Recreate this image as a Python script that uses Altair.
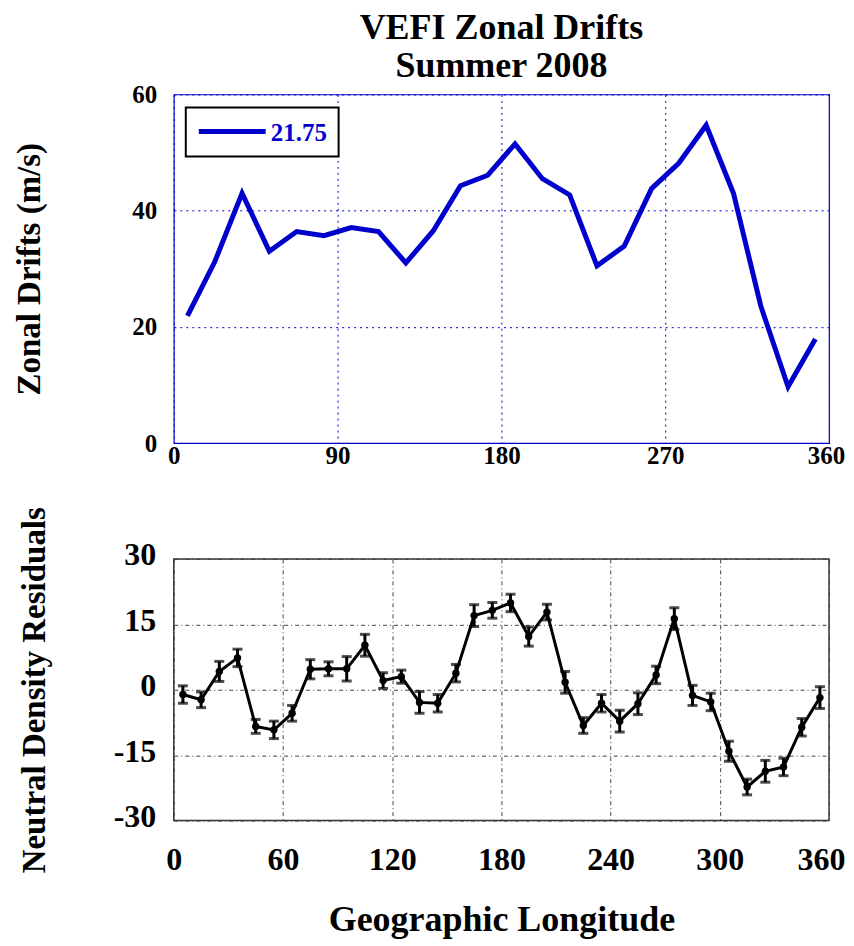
import altair as alt
import pandas as pd

# ---------------- data ----------------
title_lines = ["VEFI Zonal Drifts", "Summer 2008"]
legend_label = ["21.75"]

lon_drift = [7.5, 22.5, 37.5, 52.5, 67.5, 82.5, 97.5, 112.5, 127.5, 142.5, 157.5, 172.5,
             187.5, 202.5, 217.5, 232.5, 247.5, 262.5, 277.5, 292.5, 307.5, 322.5, 337.5, 352.5]
drift = [21.9, 31.2, 43.0, 33.0, 36.4, 35.7, 37.1, 36.4, 31.0, 36.5, 44.3, 46.1,
         51.5, 45.5, 42.7, 30.5, 33.9, 43.8, 48.2, 54.7, 43.0, 23.6, 9.7, 17.9]

lon_res = [5, 15, 25, 35, 45, 55, 65, 75, 85, 95, 105, 115, 125, 135, 145, 155, 165, 175,
           185, 195, 205, 215, 225, 235, 245, 255, 265, 275, 285, 295, 305, 315, 325, 335, 345, 355]
res = [-1.1, -2.3, 4.2, 7.3, -8.4, -9.2, -5.4, 4.7, 4.8, 4.8, 10.2, 2.1, 3.0, -2.9, -3.1, 3.8,
       17.0, 18.2, 19.9, 12.2, 17.8, 1.7, -8.2, -3.1, -7.2, -3.2, 3.4, 16.3, -1.3, -2.8,
       -14.1, -22.3, -18.7, -17.7, -8.6, -1.8]
res_err = [2.0, 1.8, 2.3, 2.0, 1.6, 2.0, 1.8, 2.2, 1.6, 2.8, 2.5, 1.8, 1.5, 2.5, 2.0, 2.0,
           2.5, 1.8, 2.0, 2.2, 1.8, 2.5, 1.8, 2.0, 2.5, 2.5, 2.0, 2.5, 2.3, 2.0,
           2.3, 1.8, 2.5, 2.0, 2.0, 2.5]

top_x_ticks = [0, 90, 180, 270, 360]
top_y_ticks = [0, 20, 40, 60]
bot_x_ticks = [0, 60, 120, 180, 240, 300, 360]
bot_y_ticks = [-30, -15, 0, 15, 30]

# ---------------- styling ----------------
BLUE = "#0000CC"
FONT = "Liberation Serif"
GRID = "#444444"
W = 656

top_df = pd.DataFrame({"lon": lon_drift, "drift": drift})
bot_df = pd.DataFrame({
    "lon": lon_res,
    "res": res,
    "lo": [r - e for r, e in zip(res, res_err)],
    "hi": [r + e for r, e in zip(res, res_err)],
})
leg_df = pd.DataFrame({"label": legend_label})
t1_df = pd.DataFrame({"t": [title_lines[0]]})
t2_df = pd.DataFrame({"t": [title_lines[1]]})

# ---------------- top panel ----------------
x_top = alt.X(
    "lon:Q",
    scale=alt.Scale(domain=[0, 360], nice=False, zero=False),
    axis=alt.Axis(values=top_x_ticks, title=None, labelFont=FONT, labelFontSize=25,
                  labelFontWeight="bold", labelColor="black", labelPadding=0,
                  labelOffset=alt.condition("datum.value == 360", alt.value(-3), alt.value(0)),
                  grid=True, gridColor=BLUE, gridDash=[2, 4], gridWidth=1,
                  domain=False, ticks=False, labelFlush=False),
)
y_top = alt.Y(
    "drift:Q",
    scale=alt.Scale(domain=[0, 60], nice=False),
    axis=alt.Axis(values=top_y_ticks, title="Zonal Drifts (m/s)", titleFont=FONT,
                  titleFontSize=33, titleFontWeight="bold", titleColor="black",
                  titlePadding=85, labelFont=FONT, labelFontSize=25, labelFontWeight="bold",
                  labelColor="black", labelPadding=17, grid=True, gridColor=BLUE,
                  gridDash=[2, 4], gridWidth=1, domain=False, ticks=False, labelFlush=False),
)

top_line = alt.Chart(top_df).mark_line(color=BLUE, strokeWidth=5, strokeJoin="miter").encode(
    x=x_top, y=y_top)

leg_box = alt.Chart(leg_df).mark_rect(fill="white", stroke="black", strokeWidth=2).encode(
    x=alt.value(12), x2=alt.value(165), y=alt.value(13), y2=alt.value(62))
leg_line = alt.Chart(leg_df).mark_rule(color=BLUE, strokeWidth=5).encode(
    x=alt.value(25), x2=alt.value(92), y=alt.value(37))
leg_text = alt.Chart(leg_df).mark_text(
    align="left", baseline="middle", font=FONT, fontSize=25, fontWeight="bold", color=BLUE
).encode(x=alt.value(97), y=alt.value(39), text="label:N")

title_style = dict(align="center", baseline="alphabetic", font=FONT, fontSize=36,
                   fontWeight="bold", color="black")
title1 = alt.Chart(t1_df).mark_text(**title_style).encode(
    x=alt.value(W / 2), y=alt.value(-56), text="t:N")
title2 = alt.Chart(t2_df).mark_text(**title_style).encode(
    x=alt.value(W / 2), y=alt.value(-17), text="t:N")

top = alt.layer(top_line, leg_box, leg_line, leg_text, title1, title2).properties(
    width=W, height=349,
    view=alt.ViewBackground(stroke=BLUE, strokeWidth=1.2),
)

# ---------------- bottom panel ----------------
x_bot = alt.X(
    "lon:Q",
    scale=alt.Scale(domain=[0, 360], nice=False, zero=False),
    axis=alt.Axis(values=bot_x_ticks, title="Geographic Longitude", titleFont=FONT,
                  titleFontSize=36, titleFontWeight="bold", titleColor="black",
                  titlePadding=27, labelFont=FONT, labelFontSize=32, labelFontWeight="bold",
                  labelColor="black", labelPadding=24,
                  labelOffset=alt.condition("datum.value == 360", alt.value(-8), alt.value(0)),
                  grid=True, gridColor=GRID,
                  gridDash=[4, 3, 1, 3], gridWidth=1, domain=False, ticks=False,
                  labelFlush=False),
)
y_bot = alt.Y(
    "res:Q",
    scale=alt.Scale(domain=[-30, 30], nice=False),
    axis=alt.Axis(values=bot_y_ticks, title="Neutral Density Residuals", titleFont=FONT,
                  titleFontSize=33, titleFontWeight="bold", titleColor="black",
                  titlePadding=62, labelFont=FONT, labelFontSize=32, labelFontWeight="bold",
                  labelColor="black", labelPadding=18, labelOffset=-4, grid=True,
                  labelExpr="'' + datum.value",
                  gridColor=GRID, gridDash=[4, 3, 1, 3], gridWidth=1, domain=False,
                  ticks=False, labelFlush=False),
)

base = alt.Chart(bot_df)
bot_line = base.mark_line(color="black", strokeWidth=3).encode(x=x_bot, y=y_bot)
bot_pts = base.mark_circle(color="black", size=55, opacity=1).encode(x=x_bot, y=y_bot)
bot_err = base.mark_rule(color="black", strokeWidth=3).encode(
    x=x_bot, y=alt.Y("lo:Q"), y2="hi:Q")
cap_hi = base.mark_tick(color="black", orient="horizontal", size=10, thickness=3).encode(
    x=x_bot, y=alt.Y("hi:Q"))
cap_lo = base.mark_tick(color="black", orient="horizontal", size=10, thickness=3).encode(
    x=x_bot, y=alt.Y("lo:Q"))

bottom = alt.layer(bot_err, cap_hi, cap_lo, bot_line, bot_pts).properties(
    width=W, height=262,
    view=alt.ViewBackground(stroke="#333333", strokeWidth=1.5),
)

chart = alt.vconcat(top, bottom, spacing=36).properties(
    padding={"left": 5, "top": 0, "right": 0, "bottom": 0},
    background="white",
).configure_view(strokeWidth=1)

chart.save("out.html", embed_options={"renderer": "svg", "actions": False})
